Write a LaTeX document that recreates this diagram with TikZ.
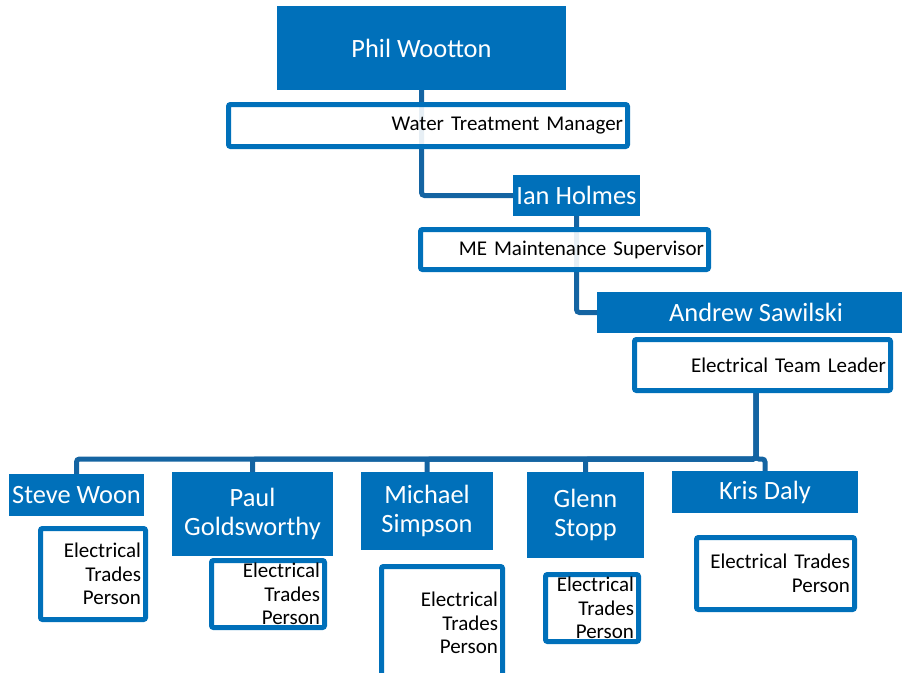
\documentclass[tikz,border=0pt]{standalone}
\usepackage{fontspec}
\setmainfont{Carlito}
\usepackage{tikz}
\usetikzlibrary{backgrounds}
\definecolor{boxblue}{RGB}{0,112,186}
\definecolor{linkblue}{RGB}{20,100,162}

\begin{document}
\begin{tikzpicture}[x=1pt, y=-1pt,
    namebox/.style={fill=boxblue, text=white, inner sep=0pt, align=center,
        font=\fontsize{26.4}{29}\selectfont},
    rolebox/.style={draw=boxblue, line width=5pt, rounded corners=2pt, fill=white,
        fill opacity=0.9, text opacity=1, align=right, inner xsep=4.5pt, inner ysep=0pt,
        font=\fontsize{21}{23.5}\selectfont},
    link/.style={draw=linkblue, line width=5pt, rounded corners=3pt}]
\useasboundingbox (0,0) rectangle (902,672);

\node[namebox, minimum width=289pt, minimum height=84pt] (phil) at (421.5,48) {Phil Wootton};
\node[rolebox, text width=390pt, minimum height=42pt] (wtm) at (428,125.5) {Water Treatment Manager};

\node[namebox, minimum width=127pt, minimum height=41pt] (ian) at (576.5,195.5) {Ian Holmes};
\node[rolebox, text width=279pt, minimum height=40pt] (mes) at (564.5,249.5) {ME Maintenance Supervisor};

\node[namebox, minimum width=318pt, minimum height=41pt] (andrew) at (756,312.5) {Andrew Sawilski};
\node[rolebox, text width=247pt, minimum height=51pt] (etl) at (762.5,365) {Electrical Team Leader};

\coordinate (bus) at (756,459);

\node[namebox, minimum width=135pt, minimum height=42pt] (steve) at (76.5,495) {Steve Woon};
\node[rolebox, text width=96pt, minimum height=91pt] (steveetp) at (93,574) {Electrical\\Trades\\Person};

\node[namebox, minimum width=161pt, minimum height=84pt] (paul) at (252.5,514) {Paul\\Goldsworthy};
\node[rolebox, text width=104pt, minimum height=67pt] (pauletp) at (268,594) {Electrical\\Trades\\Person};

\node[namebox, minimum width=132pt, minimum height=78pt] (michael) at (427,511) {Michael\\Simpson};
\node[rolebox, text width=112pt, minimum height=113pt] (michaeletp) at (442,623) {Electrical\\Trades\\Person};

\node[namebox, minimum width=117pt, minimum height=86pt] (glenn) at (585.5,515) {Glenn\\Stopp};
\node[rolebox, text width=84pt, minimum height=67pt] (glennetp) at (592,608) {Electrical\\Trades\\Person};

\node[namebox, minimum width=186pt, minimum height=42pt] (kris) at (765,492) {Kris Daly};
\node[rolebox, text width=149pt, minimum height=72pt] (krisetp) at (775.5,573.5) {Electrical Trades\\Person};

\begin{pgfonlayer}{background}
\draw[link] (phil.south) |- (ian.west);
\draw[link] (ian.south) |- (andrew.west);
\foreach \k in {steve,paul,michael,glenn,kris}
    \draw[link] (bus |- etl.south) -- (bus) -| (\k.north);
\end{pgfonlayer}
\end{tikzpicture}
\end{document}
